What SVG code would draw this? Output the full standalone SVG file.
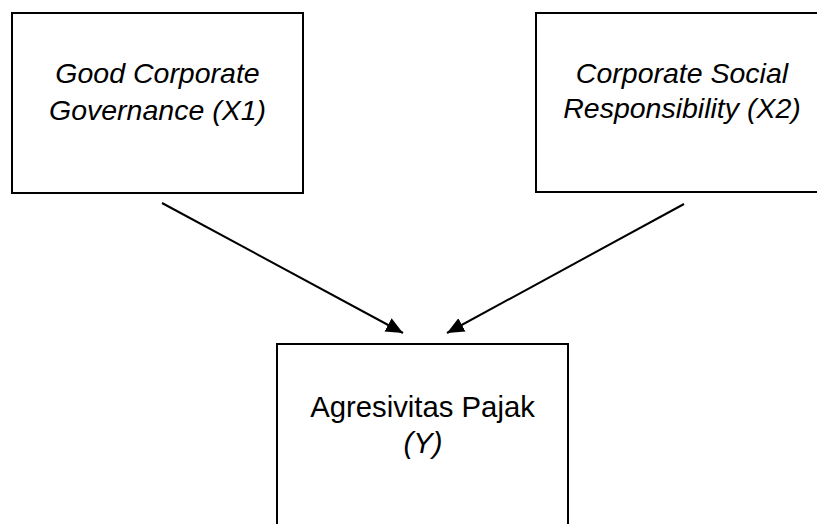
<svg xmlns="http://www.w3.org/2000/svg" width="817" height="524" viewBox="0 0 817 524">
<style>
.box{fill:#ffffff;stroke:#000000;stroke-width:2}
.t{font-family:"Liberation Sans",Arial,sans-serif;font-size:28.5px;fill:#000000;text-anchor:middle}
.b{font-size:29.3px}
.i{font-style:italic}
.c{stroke:#000000;stroke-width:2;fill:none}
</style>
<defs>
<marker id="ah" markerUnits="userSpaceOnUse" markerWidth="18" markerHeight="16" refX="17" refY="7.5" orient="auto" viewBox="0 0 18 15">
<path d="M0,0 L17,7.5 L0,15 Z" fill="#000000"/>
</marker>
</defs>
<rect width="817" height="524" fill="#ffffff"/>
<g id="node-gcg">
<rect class="box" x="12" y="13" width="291" height="180"/>
<text class="t i" x="157.5" y="83">Good Corporate</text>
<text class="t i" x="157.5" y="120">Governance (X1)</text>
</g>
<g id="node-csr">
<rect class="box" x="536" y="13" width="292" height="179"/>
<text class="t i" x="682" y="83">Corporate Social</text>
<text class="t i" x="682" y="118">Responsibility (X2)</text>
</g>
<g id="node-y">
<rect class="box" x="277" y="344" width="291" height="200"/>
<text class="t b" x="422.5" y="417">Agresivitas Pajak</text>
<text class="t b i" x="423" y="453">(Y)</text>
</g>
<g id="connectors">
<line class="c" x1="162" y1="203" x2="403" y2="333" marker-end="url(#ah)"/>
<line class="c" x1="684" y1="204" x2="447" y2="333" marker-end="url(#ah)"/>
</g>
</svg>
